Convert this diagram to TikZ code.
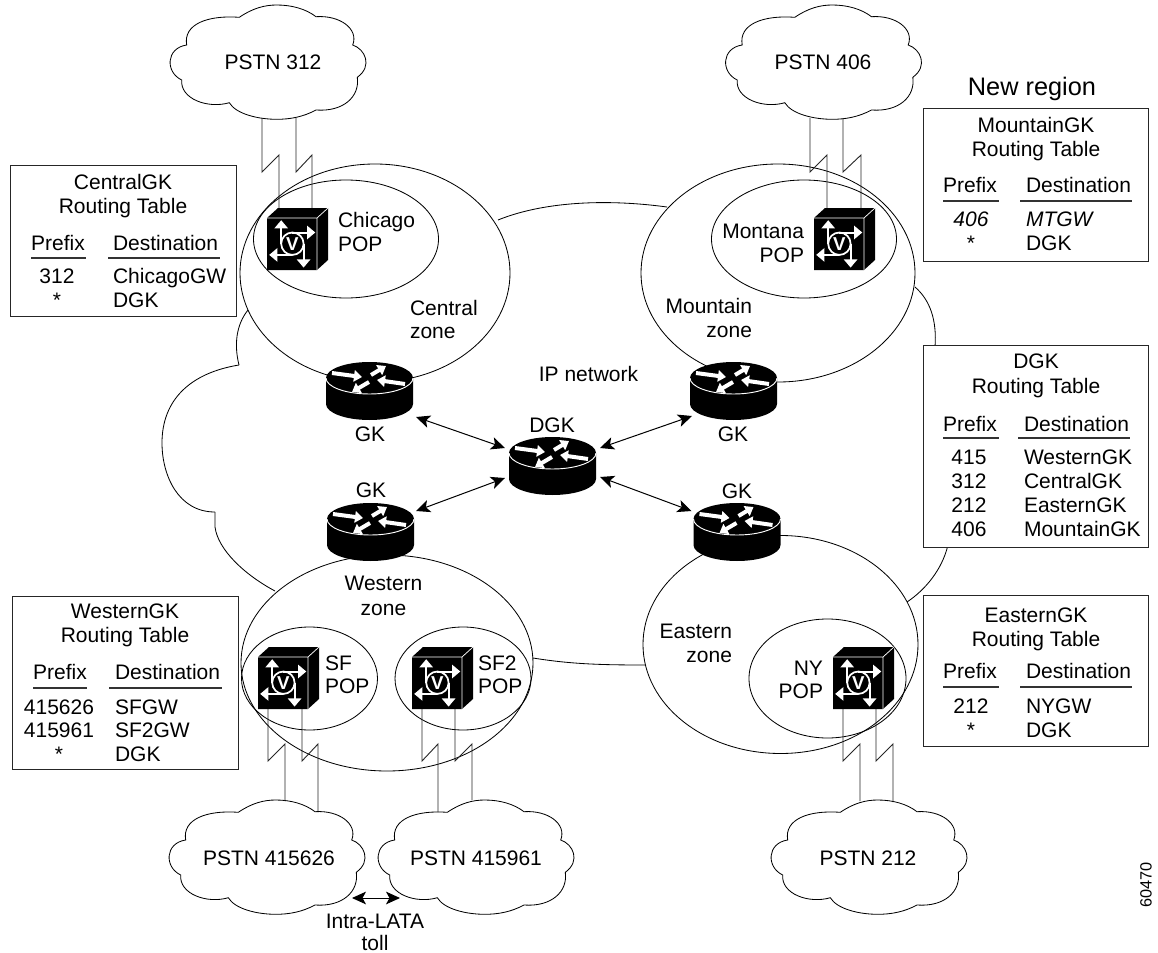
\documentclass[tikz,border=0pt]{standalone}
\usepackage{fontspec}
\setmainfont{Liberation Sans}
\usetikzlibrary{arrows.meta,calc,shapes.geometric}
\newcommand{\lbl}[4]{\node[txt,anchor=#3] (#1) at (#2) {#4};}
\newcommand{\zigzag}[4]{\draw[linkline] (#1) -- (#1 |- 0,#3) -- (#2 |- 0,#4) -- (#2);}
\tikzset{
  txt/.style={inner sep=0pt,outer sep=0pt,font=\fontsize{15.75pt}{18pt}\selectfont},
  thinline/.style={draw=black,line width=0.62pt},
  linkline/.style={draw=black!85,line width=0.68pt},
  zonebox/.style 2 args={shape=ellipse,thinline,inner sep=0pt,outer sep=0pt,minimum width=#1*0.75pt,minimum height=#2*0.75pt},
  tabbox/.style 2 args={shape=rectangle,draw=black!85,line width=0.7pt,fill=white,inner sep=0pt,anchor=north west,minimum width=#1*0.75pt,minimum height=#2*0.75pt},
  hubbox/.style={shape=rectangle,inner sep=0pt,outer sep=0pt,minimum width=87*0.75pt,minimum height=58*0.75pt},
  gwbox/.style={shape=rectangle,inner sep=0pt,outer sep=0pt,minimum width=50*0.75pt,minimum height=52*0.75pt,anchor=north west},
  dblarrow/.style={draw=black,line width=0.75pt,{Stealth[length=10.5pt,width=9.5pt,inset=2.6pt]}-{Stealth[length=10.5pt,width=9.5pt,inset=2.6pt]}},
  whitearrow/.style={draw=white,line width=3pt,-{Triangle[length=6pt,width=8.5pt]}},
  symarrow/.style={draw=white,line width=1.5pt,-{Triangle[length=6.2pt,width=10pt]}},
  rulebar/.style={draw=black!80,line width=0.8pt},
  cloudpic/.pic={
    \draw[thinline,fill=white] (-28.7,-44.7) .. controls (-15,-54) and (-3,-57) .. (8.7,-57)
      .. controls (24,-57) and (38,-53) .. (48,-45.3)
      .. controls (72,-47) and (91,-33) .. (84.7,-17)
      .. controls (97,-13) and (105,4) .. (89.3,15.3)
      .. controls (92,35) and (75,50) .. (48,48)
      .. controls (35,55) and (22,57.3) .. (8.7,57.3)
      .. controls (-10,57.3) and (-32,52) .. (-38.7,40.7)
      .. controls (-60,47) and (-88,37) .. (-86.3,18)
      .. controls (-103,10) and (-102,-14) .. (-81.3,-17)
      .. controls (-85,-38) and (-60,-47) .. (-28.7,-44.7) -- cycle;
  },
  routerpic/.pic={
    \fill[black] (-43.5,0) .. controls (-43.5,-8.84) and (-24.02,-16) .. (0,-16)
      .. controls (24.02,-16) and (43.5,-8.84) .. (43.5,0) -- (43.5,26)
      .. controls (43.5,34.84) and (24.02,42) .. (0,42)
      .. controls (-24.02,42) and (-43.5,34.84) .. (-43.5,26) -- cycle;
    \draw[white,line width=0.7pt] (-43.5,0) .. controls (-43.5,8.84) and (-24.02,16) .. (0,16)
      .. controls (24.02,16) and (43.5,8.84) .. (43.5,0);
    \draw[whitearrow] (-37.5,-5) -- (-7.5,-1);
    \draw[whitearrow] (1.5,-3) -- (16.5,-12);
    \draw[whitearrow] (35.5,6) -- (7.5,2);
    \draw[whitearrow] (-0.5,4) -- (-17.5,14);
  },
  cubepic/.pic={
    \fill[black] (0,0) -- (11,-10) -- (61,-10) -- (61,42) -- (50,52) -- (0,52) -- cycle;
    \draw[white,line width=0.55pt] (0,0) -- (50,0) -- (50,52) (50,0) -- (61,-10);
    \draw[white,line width=1.3pt] (25.4,25.7) circle[radius=11.2];
    \draw[symarrow] (14.2,25.7) -- (14.2,2.2);
    \draw[symarrow] (25.4,14.5) -- (48.3,14.5);
    \draw[symarrow] (36.6,25.7) -- (36.6,49.6);
    \draw[symarrow] (25.4,36.9) -- (2.2,36.9);
    \node[inner sep=0pt,text=white,font=\fontsize{14pt}{15pt}\selectfont\bfseries] at (25.4,26) {V};
  }
}
\begin{document}
\begin{tikzpicture}[x=0.75pt,y=-0.75pt]
\useasboundingbox (0,0) rectangle (1158,953);
\fill[white] (0,0) rectangle (1158,953);

% IP network cloud
\draw[thinline] (498,220) .. controls (540,203) and (600,198) .. (667,207);
\draw[thinline] (915,287) .. controls (930,300) and (937,320) .. (935,347);
\draw[thinline] (948,545) .. controls (942,570) and (925,590) .. (907,602);
\draw[thinline] (248,310) .. controls (236,325) and (234,345) .. (239,365);
\draw[thinline] (239,365) .. controls (190,373) and (162,400) .. (162,443)
  .. controls (162,475) and (178,512) .. (215,512);
\draw[thinline] (215,512) -- (215,527) .. controls (218,550) and (245,575) .. (275,591);
\draw[thinline] (533,658) .. controls (570,664) and (600,665) .. (645,665);

% Zones
\node[zonebox={270}{218}] (zCentral) at (375,273) {};
\node[zonebox={274}{218}] (zMountain) at (778,273) {};
\node[zonebox={292}{216}] (zWestern) at (387,663) {};
\node[zonebox={275}{218}] (zEastern) at (780.5,644.5) {};
\node[zonebox={185}{118}] (pChicago) at (346,239) {};
\node[zonebox={185}{118}] (pMontana) at (804,239) {};
\node[zonebox={136}{103}] (pSF) at (309.5,678.5) {};
\node[zonebox={136}{103}] (pSFtwo) at (463,678.5) {};
\node[zonebox={157}{119}] (pNY) at (827.5,678.5) {};

% PSTN clouds
\pic at (268,62) {cloudpic};
\pic at (823.5,62) {cloudpic};
\pic at (267,857) {cloudpic};
\pic at (476,857) {cloudpic};
\pic at (869,857) {cloudpic};
\lbl{cThree}{273,69}{base}{PSTN 312}
\lbl{cFour}{823,69}{base}{PSTN 406}
\lbl{cSF}{269,865}{base}{PSTN 415626}
\lbl{cSFtwo}{476,865}{base}{PSTN 415961}
\lbl{cTwo}{868,865}{base}{PSTN 212}

% Gateway anchors
\node[gwbox] (gwChicago) at (267,218) {};
\node[gwbox] (gwMontana) at (814,218) {};
\node[gwbox] (gwSF) at (258,657) {};
\node[gwbox] (gwSFtwo) at (412,657) {};
\node[gwbox] (gwNY) at (833,657) {};

% PSTN links
\coordinate (la) at ($(cThree.base)+(-11,49)$);
\coordinate (lb) at ($(gwChicago.north west)+(12,-10)$);
\coordinate (lc) at ($(cThree.base)+(23,49)$);
\coordinate (ld) at ($(gwChicago.north west)+(45,-10)$);
\zigzag{la}{lb}{172}{155}
\zigzag{lc}{ld}{172}{155}
\coordinate (me) at ($(cFour.base)+(-13,49)$);
\coordinate (mf) at ($(gwMontana.north west)+(13,-10)$);
\coordinate (mg) at ($(cFour.base)+(20,49)$);
\coordinate (mh) at ($(gwMontana.north west)+(47,-10)$);
\zigzag{me}{mf}{172}{155}
\zigzag{mg}{mh}{172}{155}
\coordinate (sa) at ($(gwSF.south west)+(10,0)$);
\coordinate (sb) at ($(cSF.base)+(16,-64)$);
\coordinate (sc) at ($(gwSF.south west)+(44,0)$);
\coordinate (sd) at ($(cSF.base)+(49,-54)$);
\zigzag{sa}{sb}{761}{744}
\zigzag{sc}{sd}{761}{744}
\coordinate (ta) at ($(gwSFtwo.south west)+(10,0)$);
\coordinate (tb) at ($(cSFtwo.base)+(-38,-53)$);
\coordinate (tc) at ($(gwSFtwo.south west)+(43,0)$);
\coordinate (td) at ($(cSFtwo.base)+(-4,-65)$);
\zigzag{ta}{tb}{761}{744}
\zigzag{tc}{td}{761}{744}
\coordinate (na) at ($(gwNY.south west)+(10,0)$);
\coordinate (nb) at ($(cTwo.base)+(-8,-64)$);
\coordinate (nc) at ($(gwNY.south west)+(43,0)$);
\coordinate (nd) at ($(cTwo.base)+(25,-63)$);
\zigzag{na}{nb}{761}{744}
\zigzag{nc}{nd}{761}{744}

% Gateways
\pic at (267,218) {cubepic};
\pic at (814,218) {cubepic};
\pic at (258,657) {cubepic};
\pic at (412,657) {cubepic};
\pic at (833,657) {cubepic};

% Routers
\node[hubbox] (gkCentral) at (369.5,391) {};
\node[hubbox] (gkMountain) at (733.5,391) {};
\node[hubbox] (gkWestern) at (370.5,532) {};
\node[hubbox] (gkEastern) at (737,532) {};
\node[hubbox] (hubDGK) at (552.5,466) {};
\pic at (369.5,378) {routerpic};
\pic at (733.5,378) {routerpic};
\pic at (370.5,519) {routerpic};
\pic at (737,519) {routerpic};
\pic at (552.5,453) {routerpic};

% Gatekeeper links
\draw[dblarrow] ($(gkCentral.south east)+(3,-3)$) -- ($(hubDGK.west)+(-4,-18)$);
\draw[dblarrow] ($(gkWestern.north east)+(2,8)$) -- ($(hubDGK.west)+(-4,12)$);
\draw[dblarrow] ($(gkMountain.south west)+(2,-4)$) -- ($(hubDGK.east)+(4,-18)$);
\draw[dblarrow] ($(gkEastern.north west)+(-2,8)$) -- ($(hubDGK.east)+(4,11)$);

% Intra-LATA
\coordinate (tollL) at (352,898);
\coordinate (tollR) at (400,898);
\draw[dblarrow] (tollL) -- (tollR);
\lbl{tollA}{375,928}{base}{Intra-LATA}
\lbl{tollB}{375,950}{base}{toll}

% Labels
\lbl{lChiA}{338,227}{base west}{Chicago}
\lbl{lChiB}{338,251}{base west}{POP}
\lbl{lCenA}{410,315}{base west}{Central}
\lbl{lCenB}{410,338}{base west}{zone}
\lbl{lMouA}{752,313}{base east}{Mountain}
\lbl{lMouB}{752,337}{base east}{zone}
\lbl{lMonA}{804,238}{base east}{Montana}
\lbl{lMonB}{804,262}{base east}{POP}
\lbl{lIP}{588.5,381}{base}{IP network}
\lbl{lDGK}{552,432}{base}{DGK}
\lbl{lGKa}{370,441}{base}{GK}
\lbl{lGKb}{733,441}{base}{GK}
\lbl{lGKc}{371,497}{base}{GK}
\lbl{lGKd}{737,498}{base}{GK}
\lbl{lWesA}{383.5,590}{base}{Western}
\lbl{lWesB}{383.5,615}{base}{zone}
\lbl{lEasA}{732,638}{base east}{Eastern}
\lbl{lEasB}{732,662}{base east}{zone}
\lbl{lNYA}{823,675}{base east}{NY}
\lbl{lNYB}{823,698}{base east}{POP}
\lbl{lSFA}{325,670}{base west}{SF}
\lbl{lSFB}{325,693}{base west}{POP}
\lbl{lSTA}{478,670}{base west}{SF2}
\lbl{lSTB}{478,693}{base west}{POP}

% Central table
\node[tabbox={226}{151}] (tCentral) at (10,165) {};
\lbl{a1}{123,189}{base}{CentralGK}
\lbl{a2}{123,213}{base}{Routing Table}
\lbl{a3}{58,250}{base}{Prefix}
\lbl{a4}{113,250}{base west}{Destination}
\draw[rulebar] (31,258) -- (86,258) (108,258) -- (220,258);
\lbl{a5}{57,283}{base}{312}
\lbl{a6}{113,283}{base west}{ChicagoGW}
\lbl{a7}{57,307}{base}{*}
\lbl{a8}{113,307}{base west}{DGK}

% Mountain table
\lbl{bNew}{1032,95}{base}{\fontsize{19pt}{22pt}\selectfont New region}
\node[tabbox={225}{153}] (tMountain) at (923,108) {};
\lbl{b1}{1036,132}{base}{MountainGK}
\lbl{b2}{1036,156}{base}{Routing Table}
\lbl{b3}{970,192}{base}{Prefix}
\lbl{b4}{1026,192}{base west}{Destination}
\draw[rulebar] (943,201) -- (999,201) (1020,201) -- (1132,201);
\lbl{b5}{971,226}{base}{\itshape 406}
\lbl{b6}{1026,226}{base west}{\itshape MTGW}
\lbl{b7}{971,250}{base}{*}
\lbl{b8}{1026,250}{base west}{DGK}

% DGK table
\node[tabbox={225}{202}] (tDGK) at (923,345) {};
\lbl{c1}{1036,368}{base}{DGK}
\lbl{c2}{1036,393}{base}{Routing Table}
\lbl{c3}{970,431}{base}{Prefix}
\lbl{c4}{1024,431}{base west}{Destination}
\draw[rulebar] (943,438) -- (999,438) (1018,438) -- (1130,438);
\lbl{c5}{969,464}{base}{415}
\lbl{c6}{1024,464}{base west}{WesternGK}
\lbl{c7}{969,488}{base}{312}
\lbl{c8}{1024,488}{base west}{CentralGK}
\lbl{c9}{969,512}{base}{212}
\lbl{c10}{1024,512}{base west}{EasternGK}
\lbl{c11}{969,536}{base}{406}
\lbl{c12}{1024,536}{base west}{MountainGK}

% Eastern table
\node[tabbox={225}{151}] (tEastern) at (923,595) {};
\lbl{d1}{1036,622}{base}{EasternGK}
\lbl{d2}{1036,646}{base}{Routing Table}
\lbl{d3}{970,678}{base}{Prefix}
\lbl{d4}{1026,678}{base west}{Destination}
\draw[rulebar] (943,687) -- (999,687) (1020,687) -- (1132,687);
\lbl{d5}{971,713}{base}{212}
\lbl{d6}{1026,713}{base west}{NYGW}
\lbl{d7}{971,737}{base}{*}
\lbl{d8}{1026,737}{base west}{DGK}

% Western table
\node[tabbox={226}{173}] (tWestern) at (12,596) {};
\lbl{e1}{125,618}{base}{WesternGK}
\lbl{e2}{125,642}{base}{Routing Table}
\lbl{e3}{60,679}{base}{Prefix}
\lbl{e4}{115,679}{base west}{Destination}
\draw[rulebar] (33,688) -- (87,688) (109,688) -- (222,688);
\lbl{e5}{59,714}{base}{415626}
\lbl{e6}{115,714}{base west}{SFGW}
\lbl{e7}{59,737}{base}{415961}
\lbl{e8}{115,737}{base west}{SF2GW}
\lbl{e9}{59,761}{base}{*}
\lbl{e10}{115,761}{base west}{DGK}

\node[txt,rotate=90,font=\fontsize{12.2pt}{14pt}\selectfont] (figid) at (1146,885) {60470};
\end{tikzpicture}
\end{document}
